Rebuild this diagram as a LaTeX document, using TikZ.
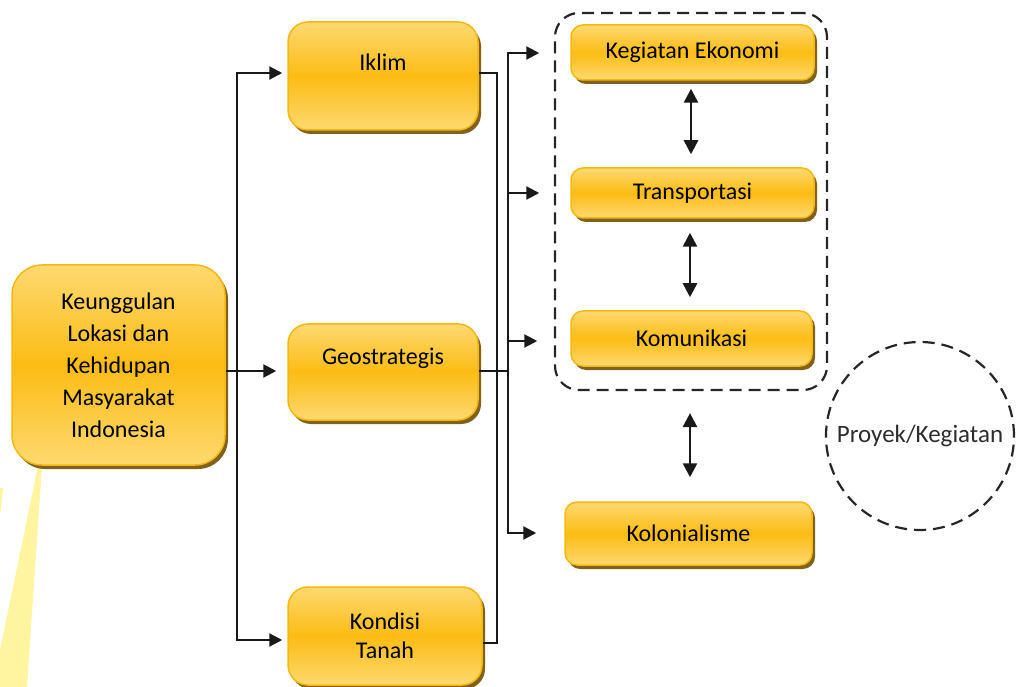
\documentclass[tikz,border=0pt]{standalone}
\usepackage{fontspec}
\setmainfont{Carlito}
\usetikzlibrary{arrows.meta,shadows}
\definecolor{gLight}{RGB}{253,217,112}
\definecolor{gMid}{RGB}{252,188,20}
\definecolor{gBorder}{RGB}{246,184,14}
\definecolor{gShadow}{RGB}{128,98,30}
\definecolor{beamCol}{RGB}{255,245,160}
\definecolor{txtGray}{RGB}{45,45,45}
\begin{document}
\begin{tikzpicture}[x=1pt,y=-1pt,
  gbox/.style={draw=gBorder, line width=1.5pt, top color=gLight, bottom color=gLight, middle color=gMid,
    general shadow={fill=gShadow, shadow xshift=3pt, shadow yshift=-4pt},
    inner sep=0pt, align=center, font=\fontsize{24}{29}\selectfont, text=black},
  btxt/.style={inner sep=0pt, font=\fontsize{24}{29}\selectfont, text=black},
  ln/.style={line width=2.2pt, draw=black!90},
  arr/.style={ln, -{Triangle[length=13pt,width=13pt]}},
  darr/.style={line width=2.6pt, draw=black!90, {Triangle[length=14pt,width=14pt]}-{Triangle[length=14pt,width=14pt]}},
  dsh/.style={draw=black!85, line width=2.2pt, dash pattern=on 12pt off 7pt}]
\useasboundingbox (0,0) rectangle (1021,687);
% light beam
\fill[beamCol] (38,466) -- (42,466) -- (27,687) -- (0,687) -- (0,650) -- cycle;
\fill[beamCol] (0,488) -- (3,488) -- (0,515) -- cycle;
% boxes
\node[gbox, minimum width=213pt, minimum height=200pt, rounded corners=30pt, font=\fontsize{24}{32}\selectfont] (main) at (118.5,365)
  {Keunggulan\\Lokasi dan\\Kehidupan\\Masyarakat\\Indonesia};
\node[gbox, minimum width=190pt, minimum height=108pt, rounded corners=20pt] (iklim) at (383,76) {};
\node[btxt] (iklimT) at (383,62) {Iklim};
\node[gbox, minimum width=190pt, minimum height=96pt, rounded corners=20pt] (geo) at (383,372) {};
\node[btxt] (geoT) at (383,358) {Geostrategis};
\node[gbox, minimum width=194pt, minimum height=98pt, rounded corners=20pt] (kond) at (385,636) {Kondisi\\Tanah};
% dashed group and circle
\node[dsh, minimum width=272pt, minimum height=377pt, rounded corners=24pt] (grp) at (691,201.5) {};
\node[dsh, circle, minimum size=188pt, inner sep=0pt, text=txtGray, font=\fontsize{25}{30}\selectfont] (proj) at (920,436) {Proyek/Kegiatan};
\node[gbox, minimum width=243pt, minimum height=55pt, rounded corners=12pt] (keg) at (692.5,52.5) {Kegiatan Ekonomi};
\node[gbox, minimum width=243pt, minimum height=50pt, rounded corners=12pt] (trans) at (692.5,193) {Transportasi};
\node[gbox, minimum width=241pt, minimum height=55pt, rounded corners=12pt] (kom) at (691.5,338.5) {Komunikasi};
\node[gbox, minimum width=247pt, minimum height=63pt, rounded corners=12pt] (kol) at (688.5,533.5) {Kolonialisme};
% bus coordinates
\coordinate (busL) at (237,371);
\coordinate (busM) at (497,371);
\coordinate (busR) at (508,371);
% left connectors
\draw[arr, shorten >=11pt] (main.east |- busL) -- (geo.west |- busL);
\draw[arr, shorten >=5pt] (busL) |- (iklim.west |- 0,73);
\draw[arr, shorten >=5pt] (busL) |- (kond.west |- 0,640);
% middle connectors
\draw[ln] (iklim.east |- 0,73) -| (busM) |- (kond.east |- 0,643);
\draw[ln] (geo.east |- busR) -- (busR);
% right bus
\draw[arr, shorten >=31pt] (busR) |- (keg.west |- 0,53);
\draw[arr, shorten >=31pt] (busR) |- (trans.west |- 0,193);
\draw[arr, shorten >=33pt] (busR) |- (kom.west |- 0,341);
\draw[arr, shorten >=28pt] (busR) |- (kol.west |- 0,533);
% double arrows
\draw[darr, shorten <=8pt, shorten >=13pt] (keg.south -| 691,0) -- (trans.north -| 691,0);
\draw[darr, shorten <=14pt, shorten >=13pt] (trans.south -| 690,0) -- (kom.north -| 690,0);
\draw[darr, shorten <=22pt, shorten >=24pt] (grp.south -| 690,0) -- (kol.north -| 690,0);
\end{tikzpicture}
\end{document}
